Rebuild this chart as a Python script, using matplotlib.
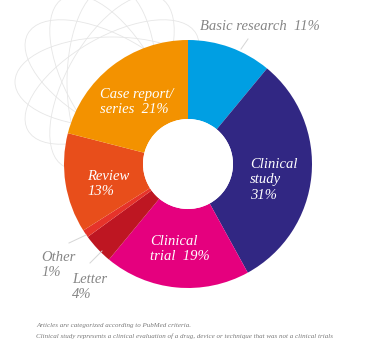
import numpy as np
import matplotlib.pyplot as plt
from matplotlib.patches import Ellipse, Circle

# Data: share of articles by type (clockwise from top)
categories = ['Basic research', 'Clinical study', 'Clinical trial', 'Letter',
              'Other', 'Review', 'Case report/series']
values = [11, 31, 19, 4, 1, 13, 21]
colors = ['#009FE3', '#312783', '#E5007E', '#BE1622',
          '#E6332A', '#E84E1B', '#F39200']

W, H = 374, 354

fig = plt.figure(figsize=(W / 100, H / 100), dpi=100)
ax = fig.add_axes([0, 0, 1, 1])


def py(y):
    # pixel row -> data y
    return H - y


# decorative rosette in the background
for ang in range(0, 180, 30):
    e = Ellipse((112, py(82)), 194, 90, angle=ang, fill=False,
                edgecolor='#e6e6e6', lw=0.6, zorder=0)
    ax.add_patch(e)

# donut
ax.pie(values, colors=colors, startangle=90, counterclock=False,
       radius=124, center=(188, py(164)),
       wedgeprops=dict(width=79, edgecolor='none'), frame=True)
ax.add_patch(Circle((188, py(164)), 45, facecolor='white',
                    edgecolor='none', zorder=3))
ax.set_xlim(0, W)
ax.set_ylim(0, H)
ax.set_aspect('equal')
ax.axis('off')

serif = ['Liberation Serif', 'DejaVu Serif']
gray = '#858585'
fs = 10.5

# white labels inside the ring
ax.text(100, py(102), 'Case report/\nseries  21%', color='white', fontsize=fs,
        family=serif, style='italic', va='center', ha='left', linespacing=1.25)
ax.text(250, py(180), 'Clinical\nstudy\n31%', color='white', fontsize=fs,
        family=serif, style='italic', va='center', ha='left', linespacing=1.25)
ax.text(87, py(184), 'Review\n13%', color='white', fontsize=fs,
        family=serif, style='italic', va='center', ha='left', linespacing=1.25)
ax.text(150, py(249), 'Clinical\ntrial  19%', color='white', fontsize=fs,
        family=serif, style='italic', va='center', ha='left', linespacing=1.25)

# gray labels outside the ring
ax.text(200, py(26), 'Basic research  11%', color=gray, fontsize=fs,
        family=serif, style='italic', va='center', ha='left')
ax.text(41, py(265), 'Other\n1%', color=gray, fontsize=fs,
        family=serif, style='italic', va='center', ha='left', linespacing=1.25)
ax.text(72, py(287), 'Letter\n4%', color=gray, fontsize=fs,
        family=serif, style='italic', va='center', ha='left', linespacing=1.25)

# leader lines
lc = '#d5d5d5'
ax.plot([248, 241], [py(39), py(49)], color=lc, lw=0.7)
ax.plot([69, 86], [py(243), py(235)], color=lc, lw=0.7)
ax.plot([90, 102], [py(263), py(251)], color=lc, lw=0.7)

# footnote
ax.text(36, py(326), 'Articles are categorized according to PubMed criteria.',
        color='#7a7a7a', fontsize=5.0, family=serif, style='italic',
        va='center', ha='left')
ax.text(36, py(336), 'Clinical study represents a clinical evaluation of a drug, '
        'device or technique that was not a clinical trials',
        color='#7a7a7a', fontsize=5.0, family=serif, style='italic',
        va='center', ha='left')

fig.savefig('out.png', dpi=100, facecolor='white')
